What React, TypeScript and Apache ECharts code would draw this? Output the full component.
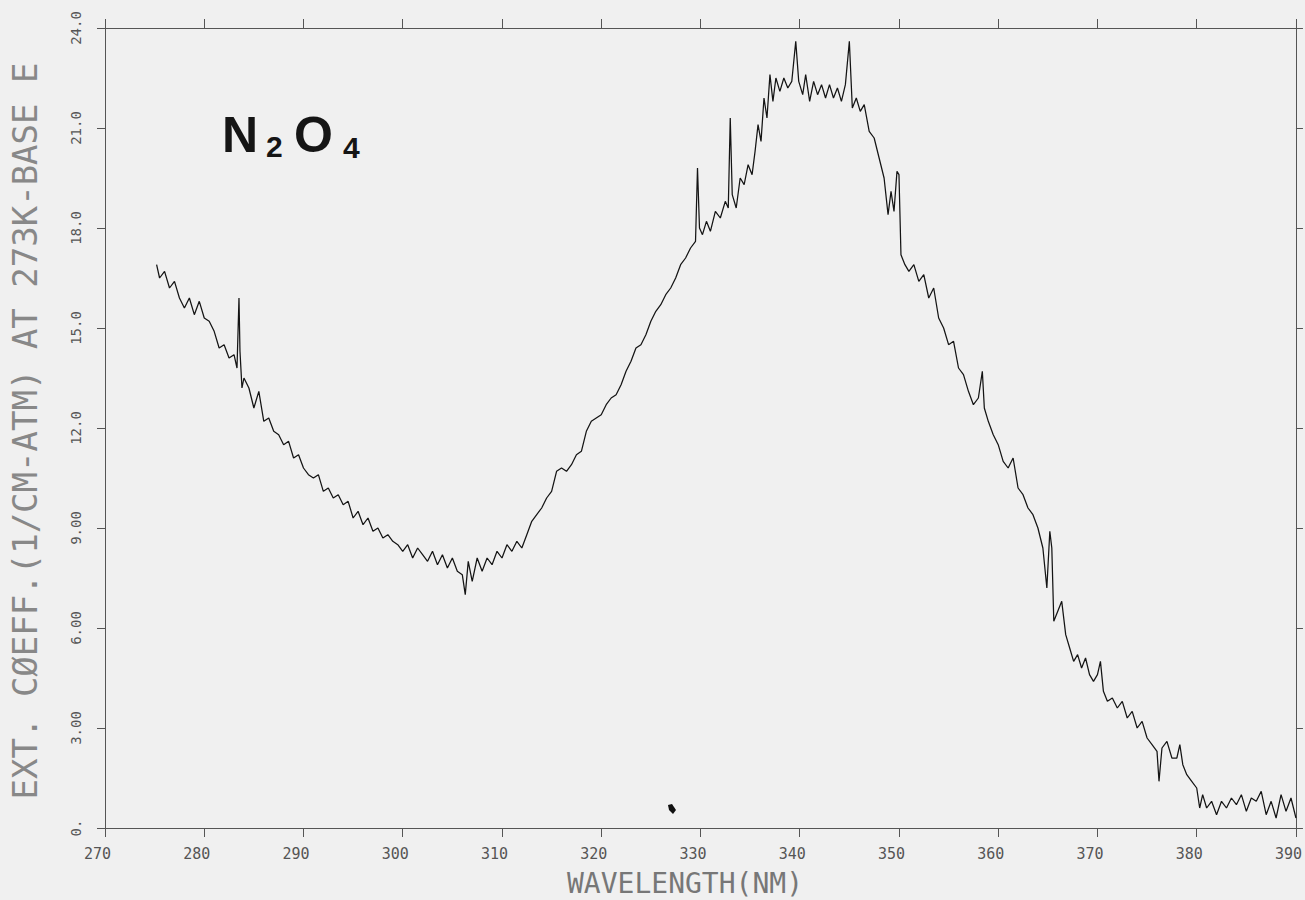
import React, { useEffect, useRef } from "react";
import * as echarts from "echarts";

// Wavelength (nm), extinction coefficient pairs
const SPECTRUM_275_300: number[][] = [
  [275.2, 16.9], [275.5, 16.5], [276, 16.7], [276.5, 16.2], [277, 16.4], [277.5, 15.9],
  [278, 15.6], [278.5, 15.9], [279, 15.4], [279.5, 15.8], [280, 15.3], [280.5, 15.2],
  [281, 14.9], [281.5, 14.4], [282, 14.5], [282.5, 14.1], [283, 14.2], [283.3, 13.8],
  [283.5, 15.9], [283.6, 14.3], [283.8, 13.2], [284, 13.5], [284.5, 13.2], [285, 12.6],
  [285.5, 13.1], [286, 12.2], [286.5, 12.3], [287, 11.9], [287.5, 11.8], [288, 11.5],
  [288.5, 11.6], [289, 11.1], [289.5, 11.2], [290, 10.8], [290.5, 10.6], [291, 10.5],
  [291.5, 10.6], [292, 10.1], [292.5, 10.2], [293, 9.9], [293.5, 10.0], [294, 9.7],
  [294.5, 9.8], [295, 9.3], [295.5, 9.5], [296, 9.1], [296.5, 9.3], [297, 8.9],
  [297.5, 9.0], [298, 8.7], [298.5, 8.8], [299, 8.6], [299.5, 8.5],
];

const SPECTRUM_300_325: number[][] = [
  [300, 8.3], [300.5, 8.5], [301, 8.1], [301.5, 8.4], [302, 8.2], [302.5, 8.0],
  [303, 8.3], [303.5, 7.9], [304, 8.2], [304.5, 7.8], [305, 8.1], [305.5, 7.7],
  [306, 7.6], [306.3, 7.0], [306.6, 8.0], [307, 7.4], [307.5, 8.1], [308, 7.7],
  [308.5, 8.1], [309, 7.9], [309.5, 8.3], [310, 8.1], [310.5, 8.5], [311, 8.3],
  [311.5, 8.6], [312, 8.4], [312.5, 8.8], [313, 9.2], [313.5, 9.4], [314, 9.6],
  [314.5, 9.9], [315, 10.1], [315.5, 10.7], [316, 10.8], [316.5, 10.7], [317, 10.9],
  [317.5, 11.2], [318, 11.3], [318.5, 11.9], [319, 12.2], [319.5, 12.3], [320, 12.4],
  [320.5, 12.7], [321, 12.9], [321.5, 13.0], [322, 13.3], [322.5, 13.7], [323, 14.0],
  [323.5, 14.4], [324, 14.5], [324.5, 14.8],
];

const SPECTRUM_325_350: number[][] = [
  [325, 15.2], [325.5, 15.5], [326, 15.7], [326.5, 16.0], [327, 16.2], [327.5, 16.5],
  [328, 16.9], [328.5, 17.1], [329, 17.4], [329.5, 17.6], [329.7, 19.8], [329.9, 18.0],
  [330.2, 17.8], [330.6, 18.2], [331, 17.9], [331.5, 18.5], [332, 18.3], [332.5, 18.8],
  [332.8, 18.6], [333, 21.3], [333.2, 19.0], [333.6, 18.6], [334, 19.5], [334.4, 19.3],
  [334.8, 19.9], [335.2, 19.6], [335.5, 20.3], [335.8, 21.1], [336.1, 20.6], [336.4, 21.9],
  [336.7, 21.3], [337, 22.6], [337.3, 21.8], [337.6, 22.5], [338, 22.1], [338.4, 22.5],
  [338.8, 22.2], [339.2, 22.4], [339.6, 23.6], [339.9, 22.4], [340.3, 22.0], [340.6, 22.6],
  [341, 21.8], [341.4, 22.4], [341.8, 22.0], [342.2, 22.3], [342.6, 21.9], [343, 22.3],
  [343.4, 21.9], [343.8, 22.2], [344.2, 21.8], [344.6, 22.3], [345, 23.6], [345.3, 21.6],
  [345.7, 21.9], [346.1, 21.5], [346.5, 21.7], [347, 20.9], [347.5, 20.7], [348, 20.1],
  [348.5, 19.5], [348.9, 18.4], [349.2, 19.1], [349.5, 18.5], [349.8, 19.7],
];

const SPECTRUM_350_370: number[][] = [
  [350, 19.6], [350.2, 17.2], [350.6, 16.9], [351, 16.7], [351.5, 16.9], [352, 16.4],
  [352.5, 16.6], [353, 15.9], [353.5, 16.2], [354, 15.3], [354.5, 15.0], [355, 14.5],
  [355.5, 14.6], [356, 13.8], [356.5, 13.6], [357, 13.1], [357.5, 12.7], [358, 12.9],
  [358.4, 13.7], [358.6, 12.6], [359, 12.2], [359.5, 11.8], [360, 11.5], [360.5, 11.0],
  [361, 10.8], [361.5, 11.1], [362, 10.2], [362.5, 10.0], [363, 9.6], [363.5, 9.4],
  [364, 9.0], [364.5, 8.4], [364.9, 7.2], [365.2, 8.9], [365.4, 8.4], [365.6, 6.2],
  [366, 6.5], [366.4, 6.8], [366.8, 5.8], [367.2, 5.4], [367.6, 5.0], [368, 5.2],
  [368.4, 4.8], [368.8, 5.1], [369.2, 4.6], [369.6, 4.4],
];

const SPECTRUM_370_390: number[][] = [
  [370, 4.6], [370.3, 5.0], [370.6, 4.1], [371, 3.8], [371.5, 3.9], [372, 3.6],
  [372.5, 3.8], [373, 3.3], [373.5, 3.5], [374, 3.0], [374.5, 3.2], [375, 2.7],
  [375.5, 2.5], [376, 2.3], [376.2, 1.4], [376.5, 2.4], [377, 2.6], [377.5, 2.1],
  [378, 2.1], [378.3, 2.5], [378.6, 1.9], [379, 1.6], [379.5, 1.4], [380, 1.2],
  [380.3, 0.6], [380.6, 1.0], [381, 0.6], [381.5, 0.8], [382, 0.4], [382.5, 0.8],
  [383, 0.6], [383.5, 0.9], [384, 0.7], [384.5, 1.0], [385, 0.5], [385.5, 0.9],
  [386, 0.8], [386.5, 1.1], [387, 0.4], [387.5, 0.8], [388, 0.3], [388.5, 1.0],
  [389, 0.5], [389.5, 0.9], [390, 0.3],
];

const Y_TICK_LABELS = ["0.", "3.00", "6.00", "9.00", "12.0", "15.0", "18.0", "21.0", "24.0"];
const X_TITLE = "WAVELENGTH(NM)";
const Y_TITLE = "EXT. CØEFF.(1/CM-ATM) AT 273K-BASE E";

const MONO = "DejaVu Sans Mono";
const AXIS_COLOR = "#555";

export default function App() {
  const ref = useRef<HTMLDivElement>(null);

  useEffect(() => {
    document.body.style.margin = "0";
    const chart = echarts.init(ref.current!, null, { renderer: "svg" });
    const data = [
      ...SPECTRUM_275_300,
      ...SPECTRUM_300_325,
      ...SPECTRUM_325_350,
      ...SPECTRUM_350_370,
      ...SPECTRUM_370_390,
    ];

    const baseX = {
      type: "value" as const,
      min: 270,
      max: 390,
      interval: 10,
      splitLine: { show: false },
      axisLine: { show: true, onZero: false, lineStyle: { color: AXIS_COLOR, width: 1 } },
      axisTick: { show: true, inside: false, length: 9, lineStyle: { color: AXIS_COLOR, width: 1 } },
    };
    const baseY = {
      type: "value" as const,
      min: 0,
      max: 24,
      interval: 3,
      splitLine: { show: false },
      axisLine: { show: true, onZero: false, lineStyle: { color: AXIS_COLOR, width: 1 } },
      axisTick: { show: true, inside: false, length: 8, lineStyle: { color: AXIS_COLOR, width: 1 } },
    };

    chart.setOption({
      animation: false,
      backgroundColor: "#f0f0f0",
      grid: { left: 105, right: 7, top: 28, bottom: 72, containLabel: false },
      xAxis: [
        {
          ...baseX,
          position: "bottom",
          axisLabel: {
            show: true,
            margin: 18,
            color: AXIS_COLOR,
            fontFamily: MONO,
            fontSize: 15,
            padding: [0, 15, 0, 0],
            formatter: (v: number) => String(v),
          },
        },
        {
          ...baseX,
          position: "top",
          axisLabel: { show: false },
        },
      ],
      yAxis: [
        {
          ...baseY,
          position: "left",
          axisLabel: {
            show: true,
            rotate: 90,
            margin: 22,
            color: AXIS_COLOR,
            fontFamily: MONO,
            fontSize: 14,
            formatter: (v: number) => Y_TICK_LABELS[Math.round(v / 3)] ?? String(v),
          },
        },
        {
          ...baseY,
          position: "right",
          axisTick: { ...baseY.axisTick, length: 7 },
          axisLabel: { show: false },
        },
      ],
      series: [
        {
          type: "line",
          xAxisIndex: 0,
          yAxisIndex: 0,
          data,
          showSymbol: false,
          symbol: "none",
          smooth: false,
          lineStyle: { color: "#141414", width: 1.25 },
        },
      ],
      graphic: [
        {
          type: "text",
          x: 685,
          y: 883,
          style: {
            text: X_TITLE,
            fontFamily: MONO,
            fontSize: 28,
            fill: "#777",
            align: "center",
            verticalAlign: "middle",
          },
        },
        {
          type: "text",
          x: 25,
          y: 431,
          rotation: Math.PI / 2,
          style: {
            text: Y_TITLE,
            fontFamily: MONO,
            fontSize: 34,
            fill: "#888",
            align: "center",
            verticalAlign: "middle",
          },
        },
        {
          type: "text",
          x: 222,
          y: 135,
          style: {
            text: "N",
            fontFamily: "Liberation Sans",
            fontWeight: "bold",
            fontSize: 50,
            fill: "#151515",
            align: "left",
            verticalAlign: "middle",
          },
        },
        {
          type: "text",
          x: 266,
          y: 146,
          style: {
            text: "2",
            fontFamily: "Liberation Sans",
            fontWeight: "bold",
            fontSize: 30,
            fill: "#151515",
            align: "left",
            verticalAlign: "middle",
          },
        },
        {
          type: "text",
          x: 294,
          y: 135,
          style: {
            text: "O",
            fontFamily: "Liberation Sans",
            fontWeight: "bold",
            fontSize: 50,
            fill: "#151515",
            align: "left",
            verticalAlign: "middle",
          },
        },
        {
          type: "text",
          x: 343,
          y: 147,
          style: {
            text: "4",
            fontFamily: "Liberation Sans",
            fontWeight: "bold",
            fontSize: 30,
            fill: "#151515",
            align: "left",
            verticalAlign: "middle",
          },
        },
        {
          type: "polygon",
          shape: { points: [[668, 805], [672, 804], [676, 810], [673, 814], [669, 810]] },
          style: { fill: "#111" },
        },
      ],
    });

    return () => chart.dispose();
  }, []);

  return <div ref={ref} style={{ width: 1305, height: 900 }} />;
}
